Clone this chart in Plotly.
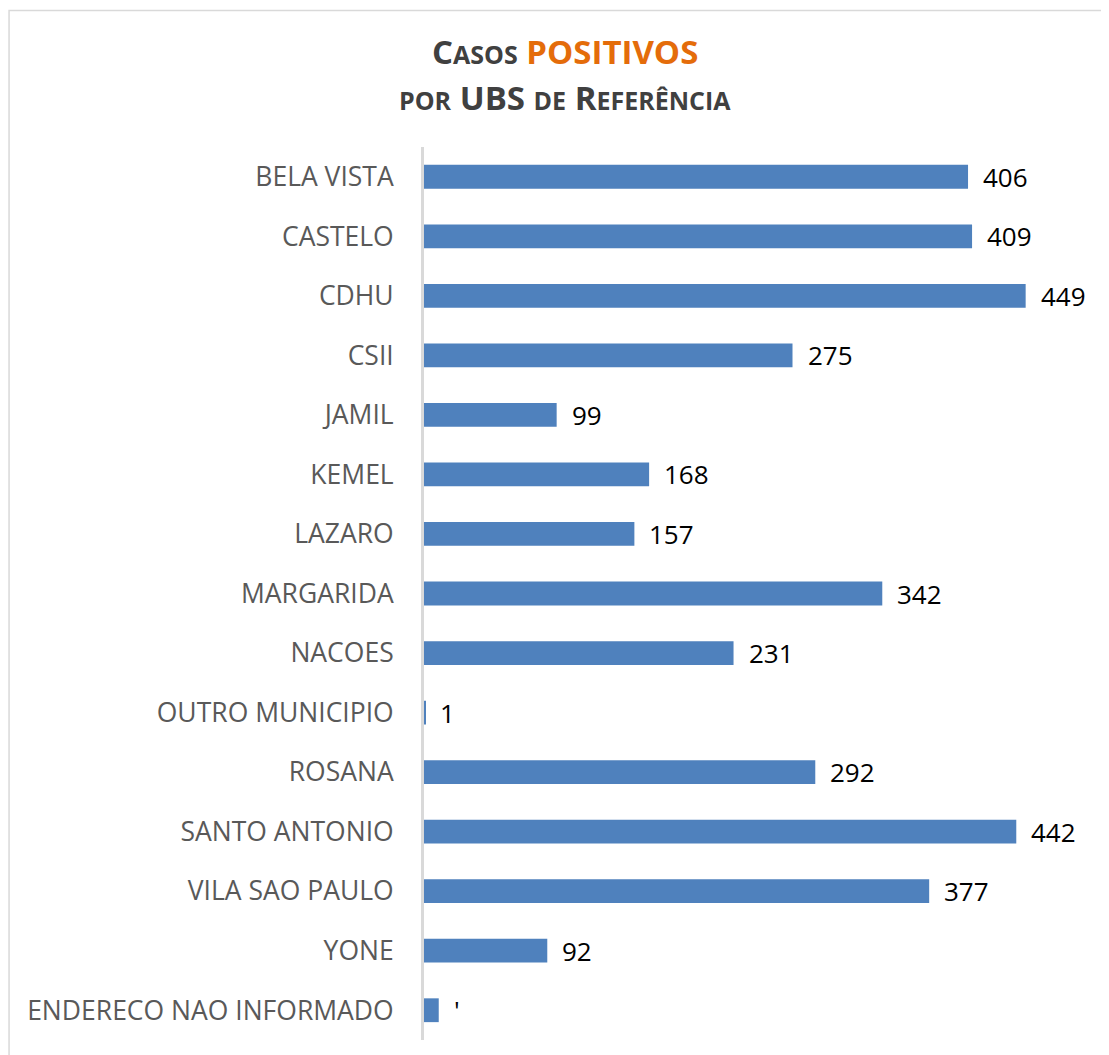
import plotly.graph_objects as go

categories = ["BELA VISTA", "CASTELO", "CDHU", "CSII", "JAMIL", "KEMEL", "LAZARO",
              "MARGARIDA", "NACOES", "OUTRO MUNICIPIO", "ROSANA", "SANTO ANTONIO",
              "VILA SAO PAULO", "YONE", "ENDERECO NAO INFORMADO"]
values = [406, 409, 449, 275, 99, 168, 157, 342, 231, 1, 292, 442, 377, 92, 11]
value_labels = ["406", "409", "449", "275", "99", "168", "157", "342", "231", "1",
                "292", "442", "377", "92", "'"]

OFF = 8  # page body margin
W, H = 1109 - OFF, 1055 - OFF
ML, MT, MB = 424 - OFF, 147 - OFF, 15
XMAX = 500
pw = 670.5
MR = W - ML - pw
ph = H - MT - MB


def py(screen_y):
    return (H - MB - (screen_y - OFF)) / ph


def px(screen_x):
    return (screen_x - OFF - ML) / pw


fig = go.Figure()
fig.add_trace(go.Bar(
    x=values, y=categories, orientation="h",
    marker=dict(color="#4F81BD", line=dict(width=0)),
    hoverinfo="x+y",
))

for c, v, t in zip(categories, values, value_labels):
    fig.add_annotation(x=v, y=c, text=t, showarrow=False, xanchor="left",
                       yanchor="middle", xshift=13,
                       font=dict(family="Open Sans", size=26, color="#000000"))

title1 = ("<b><span style='font-size:33px'>C</span><span style='font-size:25px'>ASOS</span> "
          "<span style='color:#E46C0A;font-size:33px'>POSITIVOS</span></b>")
title2 = ("<b><span style='font-size:25px'>POR</span> <span style='font-size:33px'>UBS</span> "
          "<span style='font-size:25px'>DE</span> <span style='font-size:33px'>R</span>"
          "<span style='font-size:25px'>EFERÊNCIA</span></b>")

for txt, yy in [(title1, 52), (title2, 97)]:
    fig.add_annotation(xref="paper", yref="paper", x=px(565), y=py(yy),
                       text=txt, showarrow=False, xanchor="center", yanchor="middle",
                       font=dict(family="Open Sans", size=33, color="#404040"))

# outer border
fig.add_shape(type="rect", xref="paper", yref="paper",
              x0=(0.75 - ML) / pw, x1=(W + 20 - ML) / pw,
              y0=-0.2, y1=py(10.5),
              line=dict(color="#D9D9D9", width=1.5), fillcolor="rgba(0,0,0,0)",
              layer="below")

fig.update_layout(
    width=W, height=H,
    margin=dict(l=ML, r=MR, t=MT, b=MB),
    plot_bgcolor="white", paper_bgcolor="white",
    bargap=0.6, showlegend=False,
    xaxis=dict(range=[0, XMAX], showgrid=False, zeroline=False,
               showticklabels=False, showline=False, ticks=""),
    yaxis=dict(autorange="reversed", showgrid=False, zeroline=False,
               showline=True, linecolor="#D9D9D9", linewidth=3, ticks="",
               ticklabelstandoff=22,
               tickfont=dict(family="Open Sans", size=26.5, color="#595959")),
)

fig.write_html("out.html")
